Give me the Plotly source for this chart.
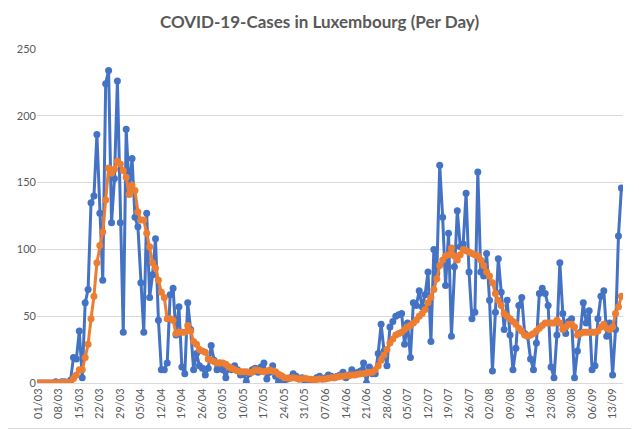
import pandas as pd
import plotly.graph_objects as go

# dates 01/03/2020 - 16/09/2020 (one value per day)
dates = pd.date_range("2020-03-01", periods=200, freq="D").strftime("%d/%m").tolist()

# daily new cases
cases = [
    0, 0, 0, 0, 0, 0, 1, 0, 1, 1,
    0, 2, 19, 18, 39, 4, 60, 70, 135, 140,
    186, 127, 77, 224, 234, 120, 153, 226, 120, 38,
    190, 145, 168, 124, 117, 75, 38, 127, 64, 81,
    108, 47, 10, 10, 15, 66, 71, 36, 57, 12,
    7, 60, 40, 10, 22, 13, 11, 6, 11, 28,
    17, 10, 15, 10, 4, 12, 10, 13, 10, 6,
    7, 1, 7, 10, 11, 8, 12, 15, 3, 8,
    13, 5, 1, 5, 2, 3, 4, 7, 5, 3,
    4, 1, 0, 2, 2, 4, 5, 3, 4, 6,
    5, 4, 5, 6, 8, 4, 6, 10, 7, 8,
    9, 15, 0, 12, 7, 7, 22, 44, 24, 13,
    42, 46, 50, 51, 52, 29, 45, 19, 60, 58,
    69, 57, 66, 83, 31, 100, 82, 163, 124, 73,
    112, 35, 87, 129, 102, 104, 142, 83, 48, 53,
    158, 83, 80, 97, 62, 9, 53, 93, 68, 40,
    62, 36, 10, 26, 58, 64, 37, 35, 18, 10,
    30, 67, 71, 67, 58, 12, 4, 36, 90, 52,
    37, 46, 48, 4, 24, 38, 60, 45, 54, 10,
    13, 48, 65, 69, 35, 45, 6, 40, 110, 146,
]

# 7-day average line
avg7 = [
    0, 0, 0, 0, 0, 0, 0.1, 0.1, 0.3, 0.4,
    0.4, 0.7, 3.3, 5.9, 10, 10, 19, 29, 48, 65,
    90, 103, 113, 137, 161, 157, 160, 166, 164, 159,
    154, 141, 148, 144, 128, 122, 122, 112, 102, 90,
    86, 77, 68, 64, 48, 48, 47, 37, 38, 38,
    38, 43, 39, 31, 29, 25, 24, 23, 18, 17,
    16, 15, 15, 15, 14, 12, 11, 10, 9, 8.5,
    8.5, 8.5, 8, 8, 10, 9.5, 9, 8.5, 9, 9.7,
    9, 8.5, 6.5, 5.5, 4, 3.7, 3.5, 4, 3.5, 3,
    3.2, 3.5, 3, 2.8, 2.7, 2.7, 3, 3, 3, 3.5,
    4, 4, 4.5, 5, 5, 5.5, 5.5, 6, 6, 6.5,
    7, 7, 7.5, 8, 8, 10, 13, 17, 21, 25,
    30, 33, 36, 37, 38, 40, 42, 43, 45, 47,
    50, 52, 55, 60, 64, 70, 78, 88, 92, 95,
    96, 101, 95, 92, 96, 100, 99, 98, 97, 96,
    95, 92, 88, 83, 80, 75, 67, 62, 58, 52,
    50, 48, 46, 44, 41, 39, 36, 35, 36, 37,
    39, 41, 43, 45, 45, 45, 45, 47, 45, 40,
    42, 44, 44, 42, 36, 37, 38, 38, 38, 38,
    38, 39, 42, 44, 41, 40, 42, 52, 57, 65,
]

x = list(range(len(dates)))

# weekly tick labels
tick_pos = x[::7]
tick_lab = dates[::7]

fig = go.Figure()
fig.add_trace(go.Scatter(
    x=x, y=cases, mode="lines+markers", name="Cases",
    line=dict(color="#4472C4", width=3),
    marker=dict(size=7, color="#4472C4"),
))
fig.add_trace(go.Scatter(
    x=x, y=avg7, mode="lines+markers", name="7-day average",
    line=dict(color="#ED7D31", width=3),
    marker=dict(size=7, color="#ED7D31"),
))

# page body has an 8px margin, so the figure is a bit smaller than the window
fig.update_layout(
    width=631, height=421,
    margin=dict(l=29, r=16, t=41, b=46, autoexpand=False),
    paper_bgcolor="white", plot_bgcolor="white",
    showlegend=False,
    font=dict(family="Lato", color="#595959"),
    title=dict(
        text="<b>COVID-19-Cases in Luxembourg (Per Day)</b>",
        x=(319.5 - 8) / 631, xanchor="center", y=1 - 14 / 421, yanchor="middle",
        font=dict(family="Lato", size=17, color="#595959"),
    ),
    xaxis=dict(
        range=[-0.44, 199.55],
        tickmode="array", tickvals=tick_pos, ticktext=tick_lab,
        tickangle=-90, tickfont=dict(size=11, color="#595959"),
        showgrid=False, zeroline=False,
        showline=True, linecolor="#D9D9D9", linewidth=1,
        ticks="", ticklen=0, automargin=False,
    ),
    yaxis=dict(
        range=[0, 250], dtick=50,
        tickfont=dict(size=11, color="#595959"),
        showgrid=True, gridcolor="#D9D9D9", gridwidth=1,
        zeroline=False, showline=False, ticks="",
        automargin=False,
    ),
    shapes=[
        # right and bottom edge of the chart frame
        dict(type="line", xref="paper", yref="paper",
             x0=1 + 15.5 / 586, x1=1 + 15.5 / 586, y0=-45.5 / 334, y1=1 + 41 / 334,
             line=dict(color="#D9D9D9", width=1)),
        dict(type="line", xref="paper", yref="paper",
             x0=-29 / 586, x1=1 + 15.5 / 586, y0=-45.5 / 334, y1=-45.5 / 334,
             line=dict(color="#D9D9D9", width=1)),
    ],
)

fig.write_html("out.html")
